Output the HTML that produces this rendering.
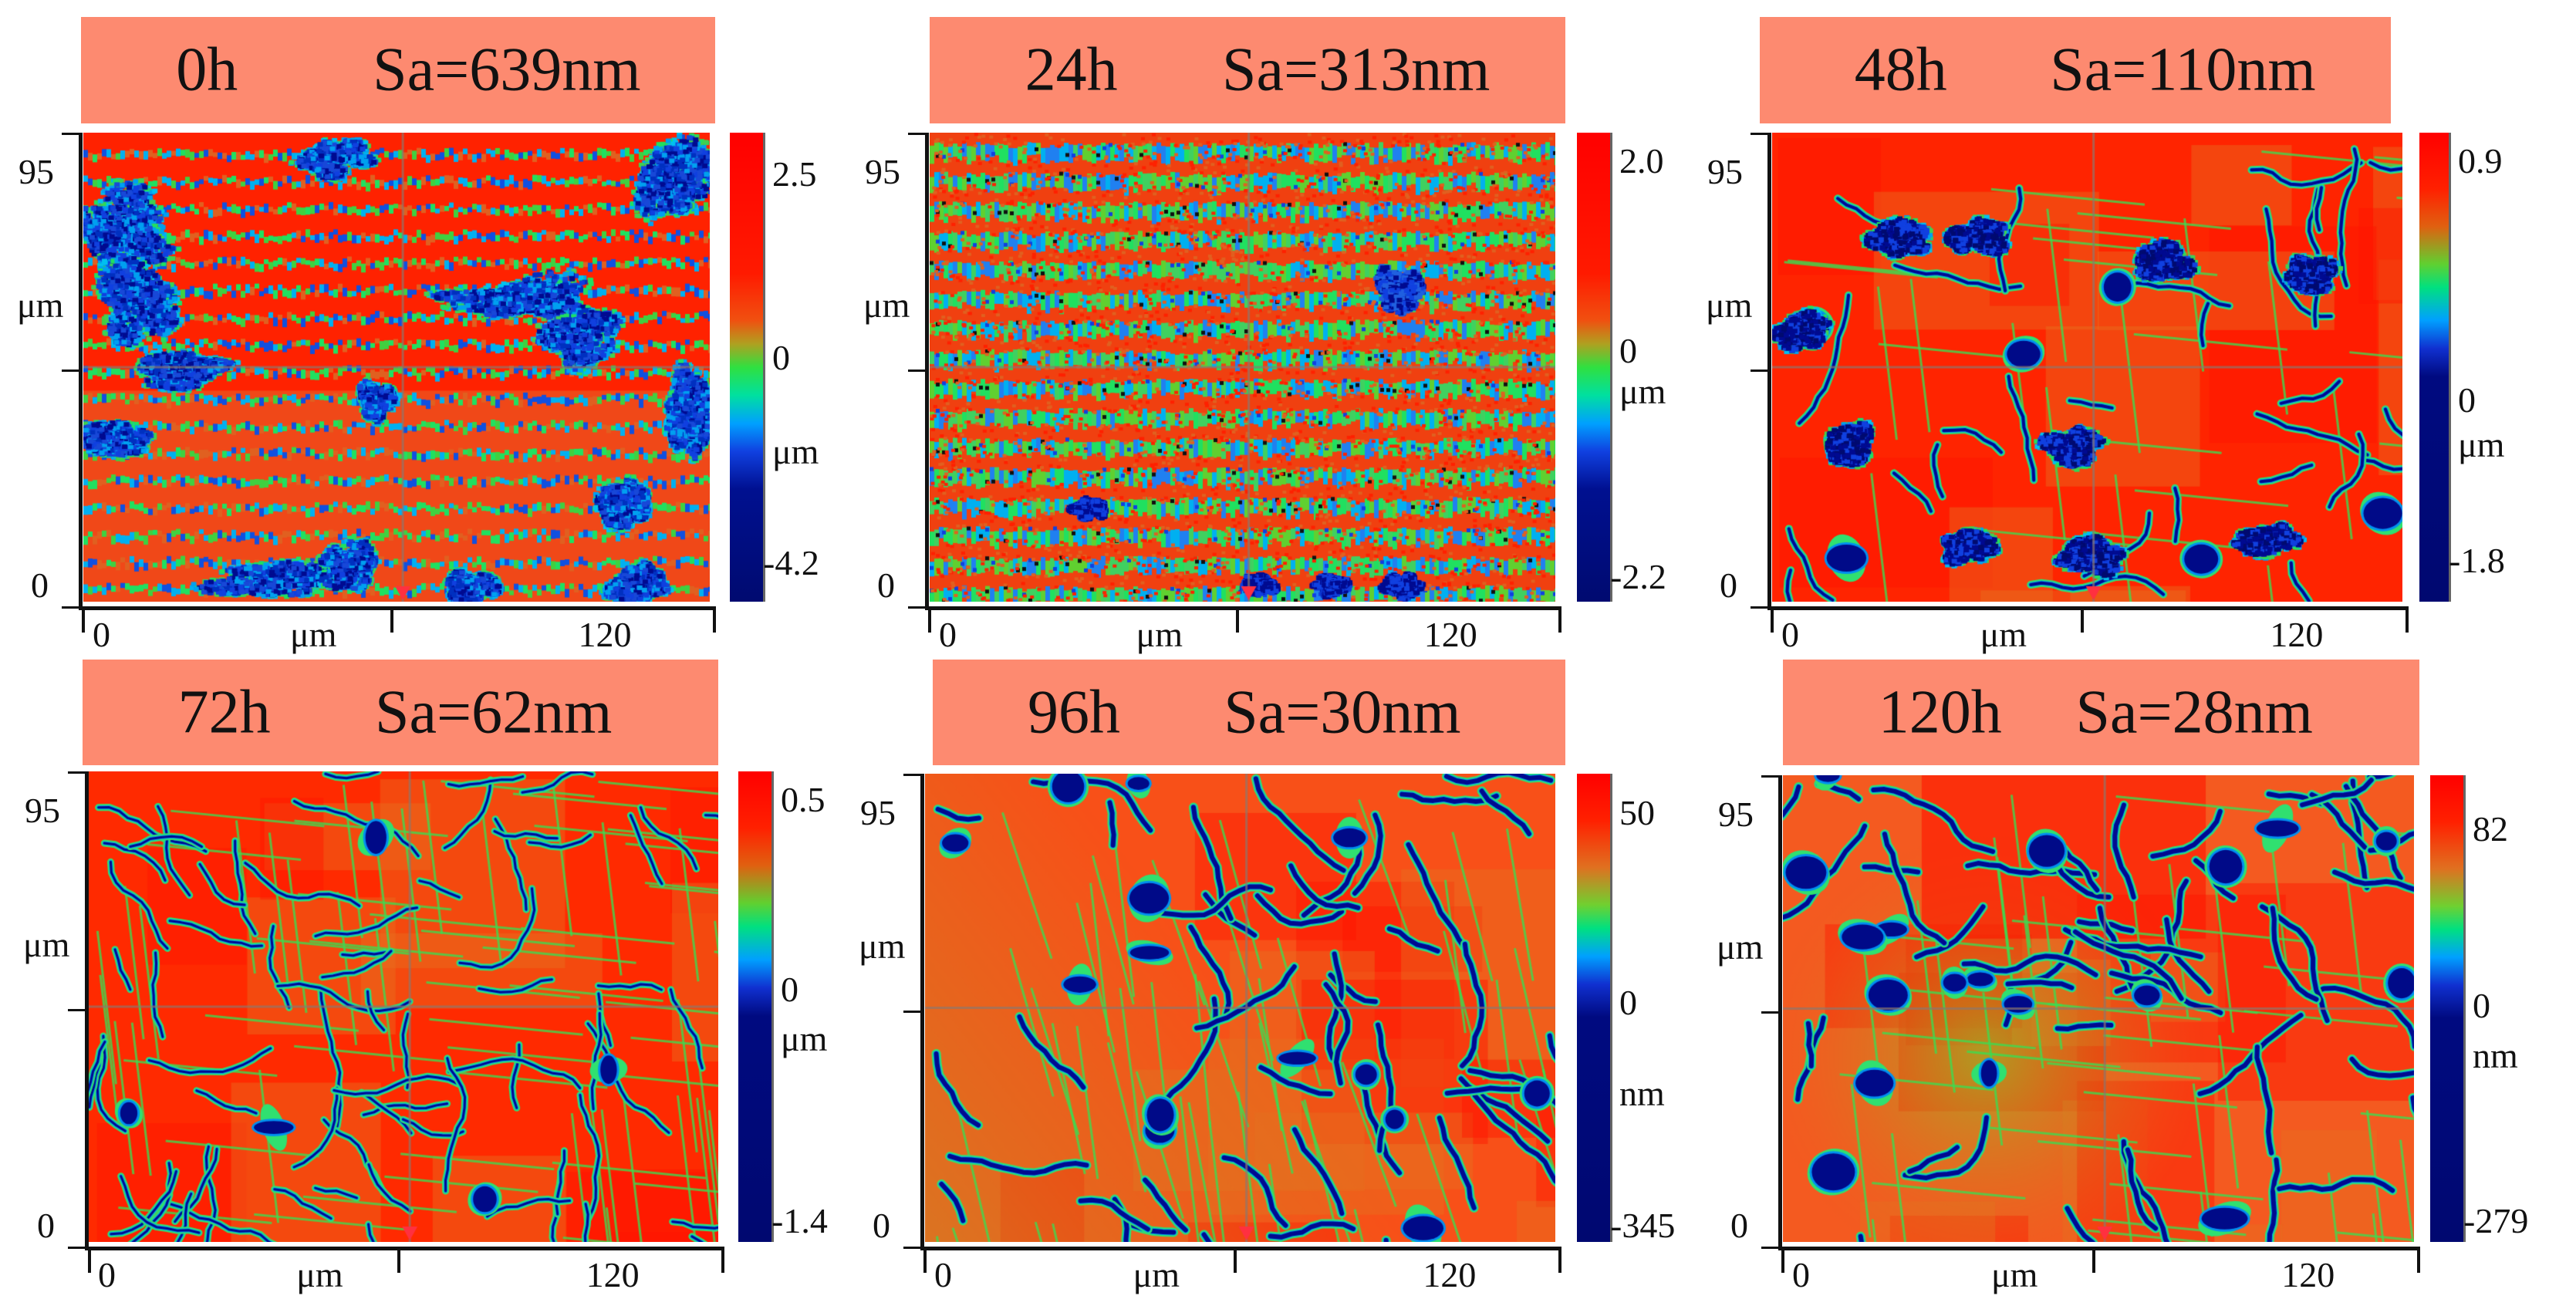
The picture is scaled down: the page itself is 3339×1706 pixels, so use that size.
<!DOCTYPE html>
<html><head><meta charset="utf-8">
<style>
html,body{margin:0;padding:0;background:#fff;}
#root{position:relative;width:3339px;height:1706px;overflow:hidden;background:#fff;font-family:"Liberation Serif",serif;color:#111;}
.hdr{position:absolute;background:#fd8a70;}
.hdr span{position:absolute;top:50%;transform:translateY(-50%);font-size:80px;white-space:nowrap;}
canvas{position:absolute;}
.lbl{position:absolute;font-size:46px;line-height:1;white-space:nowrap;}
.ln{position:absolute;background:#111;}
</style></head>
<body>
<div id="root"></div>
<script>
// ---- data ----
const times = ["0h","24h","48h","72h","96h","120h"];
const saValues = [639,313,110,62,30,28];
const cbTopLabels = ["2.5","2.0","0.9","0.5","50","82"];
const cbZeroLabels = ["0","0","0","0","0","0"];
const cbBottomLabels = ["-4.2","-2.2","-1.8","-1.4","-345","-279"];
const cbUnits = ["μm","μm","μm","μm","nm","nm"];
const xTickLabels = ["0","μm","120"];
const yTickLabels = ["95","μm","0"];

// ---- layout ----
const L = [
 {hx:105,hw:822,hy:22,hh:138, ix:108,iy:172,iw:812,ih:608, cx:946,cw:43, ya:102, tt:[227,465,587,731], type:'s1', cb:0},
 {hx:1205,hw:824,hy:22,hh:138, ix:1205,iy:172,iw:811,ih:608, cx:2044,cw:43, ya:1199, tt:[210,456,509,749], type:'s2', cb:0},
 {hx:2281,hw:818,hy:22,hh:138, ix:2297,iy:172,iw:817,ih:608, cx:3136,cw:38, ya:2291, tt:[210,520,578,728], type:'c3', cb:1},
 {hx:107,hw:824,hy:855,hh:137, ix:115,iy:1000,iw:816,ih:610, cx:957,cw:43, ya:110, tt:[1038,1284,1348,1584], type:'c4', cb:1},
 {hx:1209,hw:820,hy:855,hh:137, ix:1199,iy:1003,iw:817,ih:607, cx:2044,cw:43, ya:1193, tt:[1055,1301,1419,1590], type:'c5', cb:2},
 {hx:2311,hw:825,hy:855,hh:137, ix:2311,iy:1005,iw:818,ih:605, cx:3150,cw:43, ya:2305, tt:[1076,1305,1370,1584], type:'c6', cb:2}
];
const root=document.getElementById('root');
let seed=12345;
function rnd(){seed=(seed*1103515245+12345)&0x7fffffff;return seed/0x7fffffff;}

function mk(tag,cls,css,name){const e=document.createElement(tag);if(cls)e.className=cls;Object.assign(e.style,css);


root.appendChild(e);return e;}

const gradients=[
 'linear-gradient(#ff0000 0%,#ff1a00 30%,#f05010 40%,#b0a020 45%,#30e040 50%,#00e0a0 56%,#00a0ff 62%,#1040e0 68%,#001090 76%,#000a70 100%)',
 'linear-gradient(#ff0000 0%,#ff2000 12%,#e06010 20%,#60d030 28%,#00e080 33%,#00a0ff 40%,#1030d0 46%,#000a80 52%,#000870 100%)',
 'linear-gradient(#ff0000 0%,#ff2000 10%,#e07020 20%,#70d030 28%,#00e080 33%,#00a0ff 39%,#1030d0 45%,#000a80 52%,#000870 100%)'
];

function irreg(ctx,cx,cy,rx,ry,cols,halo){
 const subs=[];
 for(let k=0;k<14;k++){const a=rnd()*6.283,r=Math.sqrt(rnd())*0.75;
  subs.push([cx+Math.cos(a)*rx*r,cy+Math.sin(a)*ry*r,rx*(0.2+rnd()*0.3),ry*(0.2+rnd()*0.35)]);}
 if(halo){subs.forEach(s=>{for(let i=0;i<60;i++){const a=rnd()*6.283,r=Math.sqrt(rnd())*1.25;
   ctx.fillStyle=['#20e060','#00c0f0','#40d050','#00a0f0'][Math.floor(rnd()*4)];
   ctx.fillRect(s[0]+Math.cos(a)*s[2]*r,s[1]+Math.sin(a)*s[3]*r,7,6);}});}
 subs.forEach(s=>{for(let i=0;i<80;i++){const a=rnd()*6.283,r=Math.sqrt(rnd());
   ctx.fillStyle=cols[Math.floor(rnd()*cols.length)];
   ctx.fillRect(s[0]+Math.cos(a)*s[2]*r,s[1]+Math.sin(a)*s[3]*r,7,6);}});
}
function crack(ctx,x,y,len,dir,w,wob){
 let pts=[[x,y]];
 for(let i=0;i<len;i++){dir+= (rnd()-0.5)*wob;x+=Math.cos(dir)*14;y+=Math.sin(dir)*14;pts.push([x,y]);}
 const draw=(col,lw)=>{ctx.strokeStyle=col;ctx.lineWidth=lw;ctx.lineJoin='round';ctx.lineCap='round';ctx.beginPath();
  pts.forEach((p,i)=>i?ctx.lineTo(p[0],p[1]):ctx.moveTo(p[0],p[1]));ctx.stroke();};
 draw('#30e070',w+6);draw('#00a0f0',w+2);draw('#000a90',w);
}
function navyBlob(ctx,cx,cy,rx,ry){
 ctx.fillStyle='#30e070';ctx.beginPath();ctx.ellipse(cx,cy,rx+6,ry+6,rnd()*3,0,6.283);ctx.fill();
 ctx.fillStyle='#0090f0';ctx.beginPath();ctx.ellipse(cx,cy,rx+3,ry+3,0,0,6.283);ctx.fill();
 ctx.fillStyle='#000a88';ctx.beginPath();ctx.ellipse(cx,cy,rx,ry,0,0,6.283);ctx.fill();
}

function texture(ctx,w,h,type){
 if(type==='s1'){
  ctx.fillStyle='#ff2200';ctx.fillRect(0,0,w,h);
  ctx.fillStyle='#f04818';ctx.fillRect(0,h*0.55,w,h*0.45);
  for(let k=0;k<17;k++){const y=h*(0.04+k*0.058);
   for(let i=0;i<w;i+=6){ctx.fillStyle=['#20e060','#00b0f0','#40d040','#1050e0','#e06020'][Math.floor(rnd()*5)];ctx.fillRect(i,y+rnd()*10-5,6,6+rnd()*6);}}
  const B=[[0.06,0.2,0.08,0.1],[0.07,0.36,0.07,0.1],[0.15,0.5,0.08,0.04],[0.72,0.34,0.15,0.05],[0.8,0.43,0.07,0.06],[0.94,0.1,0.06,0.1],[0.96,0.6,0.04,0.1],[0.3,0.95,0.12,0.04],[0.42,0.92,0.05,0.05],[0.62,0.96,0.04,0.04],[0.88,0.96,0.05,0.04],[0.46,0.56,0.03,0.05],[0.05,0.64,0.05,0.05],[0.86,0.78,0.04,0.06],[0.4,0.05,0.06,0.04]];
  B.forEach(b=>irreg(ctx,b[0]*w,b[1]*h,b[2]*w,b[3]*h,['#1040e0','#0030c0','#000a90','#00a0f0','#1848d8'],true));
 } else if(type==='s2'){
  ctx.fillStyle='#f04010';ctx.fillRect(0,0,w,h);
  for(let k=0;k<16;k++){const y=h*(0.02+k*0.063);
   for(let i=0;i<w;i+=6){ctx.fillStyle=['#20e060','#00b0f0','#40d060','#2080f0','#60d030'][Math.floor(rnd()*5)];ctx.fillRect(i,y+rnd()*8,6,14+rnd()*10);}
   for(let i=0;i<w;i+=8){if(rnd()<0.3){ctx.fillStyle=rnd()<0.5?'#101010':'#1040e0';ctx.fillRect(i,y+rnd()*18,5,5);}}}
  for(let i=0;i<3000;i++){ctx.fillStyle=rnd()<0.5?'#ff2000':'#e06020';ctx.fillRect(rnd()*w,rnd()*h,5,4);}
  irreg(ctx,0.74*w,0.32*h,0.04*w,0.06*h,['#1040e0','#000a90','#2060e0'],false);
  [[0.52,0.96],[0.64,0.96],[0.75,0.96],[0.25,0.8]].forEach(b=>irreg(ctx,b[0]*w,b[1]*h,0.03*w,0.025*h,['#000a90','#1040e0'],false));
 } else {
  const base={c3:'#ff2400',c4:'#ff2a00',c5:'#f85018',c6:'#f45a20'}[type];
  ctx.fillStyle=base;ctx.fillRect(0,0,w,h);
  for(let i=0;i<14;i++){ctx.fillStyle=rnd()<0.5?'rgba(230,110,30,0.45)':'rgba(255,20,0,0.45)';ctx.fillRect(rnd()*w,rnd()*h,80+rnd()*250,80+rnd()*250);}
  if(type==='c6'){const g=ctx.createRadialGradient(w*0.32,h*0.6,10,w*0.32,h*0.6,w*0.35);g.addColorStop(0,'rgba(150,190,40,0.7)');g.addColorStop(1,'rgba(230,110,30,0)');ctx.fillStyle=g;ctx.fillRect(0,0,w,h);
   ctx.fillStyle='rgba(255,20,0,0.6)';ctx.fillRect(w*0.22,0,w*0.45,h*0.35);}
  if(type==='c5'){const g=ctx.createLinearGradient(0,h,w*0.5,h*0.5);g.addColorStop(0,'rgba(200,140,40,0.6)');g.addColorStop(1,'rgba(200,140,40,0)');ctx.fillStyle=g;ctx.fillRect(0,0,w,h);}
  const nCr={c3:30,c4:70,c5:45,c6:50}[type];
  for(let i=0;i<nCr;i++){ctx.strokeStyle='rgba(60,220,80,0.8)';ctx.lineWidth=3;ctx.beginPath();const x=rnd()*w,y=rnd()*h;ctx.moveTo(x,y);
   const a=type==='c5'?1.2+rnd()*0.3:(rnd()<0.5?1.45:0.1);ctx.lineTo(x+Math.cos(a)*200,y+Math.sin(a)*200);ctx.stroke();}
  const wid={c3:4,c4:3,c5:6,c6:6}[type];
  for(let i=0;i<nCr;i++){const dir=type==='c5'?(rnd()<0.6?1.2:0.1):(rnd()<0.5?0.05:1.45)+(rnd()-0.5)*0.6;
   crack(ctx,rnd()*w,rnd()*h,4+Math.floor(rnd()*10),dir,wid,0.8);}
  const nb={c3:6,c4:5,c5:14,c6:16}[type];
  for(let i=0;i<nb;i++){navyBlob(ctx,rnd()*w,type==='c6'?rnd()*h*0.7:rnd()*h,10+rnd()*18,8+rnd()*14);}
  if(type==='c3'){[[0.05,0.42],[0.32,0.22],[0.12,0.66],[0.47,0.66],[0.3,0.88],[0.5,0.9],[0.78,0.86],[0.62,0.27],[0.2,0.22],[0.85,0.3]].forEach(b=>irreg(ctx,b[0]*w,b[1]*h,0.05*w,0.04*h,['#000a90','#1040e0','#000a70'],true));}
  if(type==='c6'){navyBlob(ctx,w*0.08,h*0.85,28,24);navyBlob(ctx,w*0.7,h*0.95,30,14);}
 }
 ctx.strokeStyle='rgba(140,120,110,0.7)';ctx.lineWidth=3;
 ctx.beginPath();ctx.moveTo(w*0.51,0);ctx.lineTo(w*0.51,h);ctx.moveTo(0,h*0.5);ctx.lineTo(w,h*0.5);ctx.stroke();
 ctx.fillStyle='#ff3040';ctx.beginPath();ctx.moveTo(w*0.51-10,h-20);ctx.lineTo(w*0.51+10,h-20);ctx.lineTo(w*0.51,h-2);ctx.fill();
}

L.forEach((p,i)=>{
 const hd=mk('div','hdr',{left:p.hx+'px',top:p.hy+'px',width:p.hw+'px',height:p.hh+'px'},'panel-header-'+times[i]);
 const t1=document.createElement('span');t1.textContent=times[i];t1.style.left=(p.hw*0.15)+'px';
 
 
 hd.appendChild(t1);
 const t2=document.createElement('span');t2.textContent='Sa='+saValues[i]+'nm';t2.style.left=(p.hw*0.46)+'px';
 
 
 hd.appendChild(t2);
 const c=mk('canvas','',{left:p.ix+'px',top:p.iy+'px'},'afm-height-map-'+times[i]);
 c.width=p.iw;c.height=p.ih;texture(c.getContext('2d'),p.iw,p.ih,p.type);
 mk('div','',{position:'absolute',left:p.cx+'px',top:p.iy+'px',width:p.cw+'px',height:p.ih+'px',background:gradients[p.cb]},'colorbar-'+times[i]);
 mk('div','ln',{left:(p.cx+p.cw)+'px',top:p.iy+'px',width:'3px',height:p.ih+'px',background:'#666'},'colorbar-axis');
 const cl=[cbTopLabels[i],cbZeroLabels[i],cbUnits[i],cbBottomLabels[i]];
 cl.forEach((s,k)=>{const e=mk('div','lbl',{left:(p.cx+p.cw+(s.startsWith('-')?0:12))+'px',top:(p.tt[k]-24)+'px'},'colorbar-tick-label');e.textContent=s;});
 const bot=p.iy+p.ih+6;
 mk('div','ln',{left:p.ya+'px',top:p.iy+'px',width:'5px',height:(bot-p.iy)+'px'},'y-axis-line');
 [p.iy,(p.iy+bot)/2,bot].forEach(y=>mk('div','ln',{left:(p.ya-22)+'px',top:y+'px',width:'24px',height:'3px'},'y-axis-tick'));
 const yl=[p.iy+52,p.iy+p.ih*0.37,p.iy+p.ih-20];
 yTickLabels.forEach((s,k)=>{const e=mk('div','lbl',{left:(p.ya-(k==1?80:(k==0?78:62)))+'px',top:(yl[k]-24)+'px'},'y-tick-label');e.textContent=s;});
 mk('div','ln',{left:p.ya+'px',top:bot+'px',width:(p.iw+(p.ix-p.ya)+6)+'px',height:'5px'},'x-axis-line');
 [p.ya+4,p.ix+p.iw*0.49,p.ix+p.iw+4].forEach(x=>mk('div','ln',{left:x+'px',top:bot+'px',width:'4px',height:'34px'},'x-axis-tick'));
 const xl=[p.ix+12,p.ix+p.iw*0.33,p.ix+p.iw*0.79];
 xTickLabels.forEach((s,k)=>{const e=mk('div','lbl',{left:xl[k]+'px',top:(bot+14)+'px'},'x-tick-label');e.textContent=s;});
});
</script>
</body></html>
